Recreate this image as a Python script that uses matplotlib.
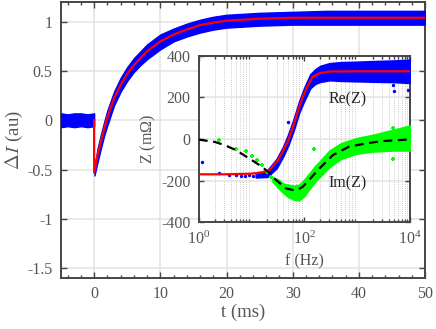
import matplotlib.pyplot as plt
from matplotlib.ticker import FixedLocator, NullFormatter, LogLocator

# ---- main transient (t in ms, current change in au) ----
t_pre = [-5, -4, -3, -2, -1, 0]
pre_lo = [-0.07, -0.06, -0.07, -0.06, -0.07, -0.06]
pre_hi = [0.07, 0.06, 0.07, 0.07, 0.06, 0.07]

t_meas = [0.05, 0.5, 1, 1.5, 2, 3, 4, 5, 6, 7, 8, 10, 12, 14, 16, 18, 20, 25, 30, 35, 40, 45, 50]
meas_lo = [-0.56, -0.43, -0.29, -0.16, -0.05, 0.15, 0.29, 0.40, 0.49, 0.56, 0.62, 0.72, 0.80, 0.85, 0.89, 0.92, 0.94, 0.96, 0.97, 0.97, 0.97, 0.97, 0.97]
meas_hi = [-0.48, -0.29, -0.15, -0.02, 0.10, 0.29, 0.43, 0.54, 0.63, 0.70, 0.77, 0.87, 0.93, 0.98, 1.02, 1.05, 1.07, 1.09, 1.10, 1.11, 1.11, 1.11, 1.11]

t_fit = [0, 0, 0.5, 1, 1.5, 2, 2.5, 3, 4, 5, 6, 7, 8, 9, 10, 12, 14, 16, 18, 20, 25, 30, 40, 50]
i_fit = [0.0, -0.53, -0.36, -0.22, -0.09, 0.03, 0.13, 0.22, 0.36, 0.47, 0.56, 0.63, 0.70, 0.75, 0.80, 0.87, 0.92, 0.965, 0.99, 1.01, 1.03, 1.04, 1.04, 1.04]

# ---- inset impedance (f in Hz, Z in mOhm) ----
f_re_fit = [1, 3, 10, 16, 22, 32, 40, 51, 63, 79, 93, 112, 145, 200, 316, 1000, 10000]
re_fit = [-170, -170, -167, -160, -150, -100, -55, 0, 70, 150, 200, 250, 300, 318, 325, 326, 326]

f_re_band = [12, 20, 30, 40, 50, 63, 80, 100, 130, 160, 200, 300, 500, 1000, 2000, 5000, 10000]
re_lo = [-185, -182, -140, -82, -28, 42, 128, 185, 245, 265, 275, 283, 280, 278, 276, 274, 270]
re_hi = [-165, -150, -95, -35, 25, 98, 182, 248, 312, 335, 352, 365, 370, 372, 375, 378, 382]

f_re_pts = [1.17, 2.45, 3.7, 5, 6.3, 7.5, 9, 10.5, 49, 4900, 5100, 9400]
re_pts = [-112, -165, -172, -175, -176, -177, -175, -178, 83, 260, 231, 236]

f_im_fit = [1, 2, 3, 5, 10, 15, 20, 29, 45, 63, 75, 93, 130, 195, 350, 700, 1500, 3000, 10000]
im_fit = [-3, -14, -28, -53, -101, -130, -155, -197, -238, -246, -244, -230, -190, -141, -77, -37, -21, -10, -2]

f_im_band = [25, 32, 40, 50, 63, 80, 100, 125, 160, 200, 300, 500, 1000, 2000, 5000, 10000]
im_lo = [-205, -235, -260, -280, -292, -295, -275, -240, -205, -180, -135, -95, -70, -60, -55, -55]
im_hi = [-185, -195, -215, -220, -225, -220, -195, -165, -130, -105, -55, -20, 5, 20, 45, 65]

f_im_pts = [2.45, 5.0, 7.8, 10.4, 12.9, 16, 20, 23, 27, 150, 4900, 4800]
im_pts = [-5, -48, -58, -80, -101, -125, -157, -181, -197, -48, -96, 53]

plt.rcParams.update({
    'font.family': 'Liberation Serif',
    'mathtext.fontset': 'custom',
    'mathtext.rm': 'Liberation Serif',
    'mathtext.it': 'Liberation Serif:italic',
    'axes.unicode_minus': False,
    'font.size': 11.5,
})

gray_txt = '#555555'
gray_ax = '#454545'

fig = plt.figure(figsize=(4.36, 3.29), dpi=100)
ax = fig.add_axes([0.140, 0.155, 0.835, 0.839])

ax.fill_between(t_pre, pre_lo, pre_hi, color='blue', lw=1.0, zorder=3)
ax.fill_between(t_meas, meas_lo, meas_hi, color='blue', lw=1.0, zorder=3)
ax.plot(t_fit, i_fit, color='red', lw=1.6, zorder=4)

ax.set_xlim(-5, 50)
ax.set_ylim(-1.6, 1.2)
ax.set_xticks([0, 10, 20, 30, 40, 50])
ax.set_yticks([-1.5, -1, -0.5, 0, 0.5, 1])
ax.set_yticklabels(['-1.5', '-1', '-0.5', '0', '0.5', '1'])
ax.xaxis.set_minor_locator(FixedLocator([-4, -2, 2, 4, 6, 8, 12, 14, 16, 18, 22, 24, 26, 28,
                                         32, 34, 36, 38, 42, 44, 46, 48]))
ax.grid(True, color='#e3e3e3', lw=1.1, zorder=0)
ax.set_axisbelow(True)
ax.tick_params(which='both', direction='in', top=True, right=True, colors=gray_ax,
               labelcolor=gray_txt, width=1.0)
ax.tick_params(which='major', length=4, pad=6)
ax.tick_params(which='minor', length=2.5)
for s in ax.spines.values():
    s.set_color(gray_ax)
    s.set_linewidth(1.4)
ax.set_xlabel('t (ms)', fontsize=13.5, color=gray_txt, labelpad=1)
ax.set_ylabel(r'$\Delta I$ (au)', fontsize=13.5, color=gray_txt, labelpad=2,
              math_fontfamily='cm')

# inset
axi = fig.add_axes([0.456, 0.325, 0.484, 0.505])
axi.set_facecolor('white')
axi.set_xscale('log')
axi.fill_between(f_re_band, re_lo, re_hi, color='blue', lw=1.2, zorder=3)
axi.scatter(f_re_pts, re_pts, s=6, color='blue', lw=0, zorder=3)
axi.fill_between(f_im_band, im_lo, im_hi, color='#00ff00', lw=1.2, zorder=3)
axi.scatter(f_im_pts, im_pts, s=7, color='#00ff00', marker='P', lw=0, zorder=3)
axi.plot(f_re_fit, re_fit, color='red', lw=1.6, zorder=4)
axi.plot(f_im_fit, im_fit, color='black', lw=1.6, dashes=(4, 2.5), zorder=4)

axi.set_xlim(1, 1e4)
axi.set_ylim(-400, 400)
axi.set_yticks([-400, -200, 0, 200, 400])
axi.set_xticks([1, 100, 1e4])
axi.xaxis.set_minor_locator(LogLocator(base=10, subs=range(2, 10), numticks=20))
axi.xaxis.set_minor_formatter(NullFormatter())
axi.grid(True, which='major', axis='y', color='#e3e3e3', lw=1.1, zorder=0)
axi.grid(True, which='minor', axis='x', color='#bbbbbb', lw=0.6, ls=(0, (1, 1.5)), zorder=0)
axi.set_axisbelow(True)
axi.tick_params(which='both', direction='in', top=True, right=True, colors=gray_ax,
                labelcolor=gray_txt, width=1.0)
axi.tick_params(which='major', length=3.5, pad=6)
axi.tick_params(which='minor', length=2)
for s in axi.spines.values():
    s.set_color(gray_ax)
    s.set_linewidth(1.4)
axi.set_xlabel('f (Hz)', fontsize=11.5, color=gray_txt, labelpad=4)
axi.set_ylabel(r'Z (m$\Omega$)', fontsize=11.5, color=gray_txt, labelpad=2)
axi.text(650, 193, 'Re(Z)', fontsize=11.5, color='#222222', ha='center', va='center', zorder=5)
axi.text(650, -212, 'Im(Z)', fontsize=11.5, color='#222222', ha='center', va='center', zorder=5)

fig.savefig('out.png', dpi=100)
